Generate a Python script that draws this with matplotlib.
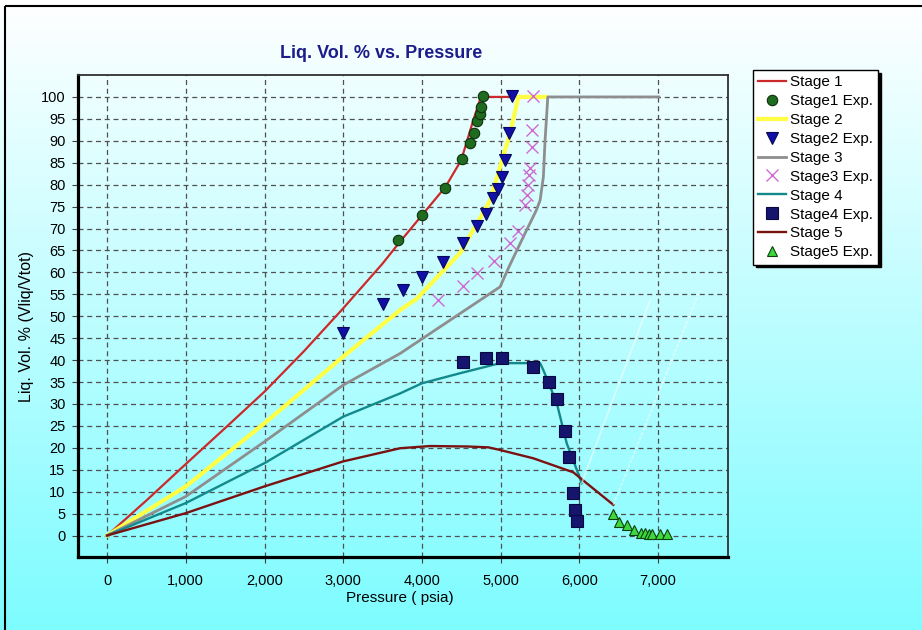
import numpy as np
import matplotlib.pyplot as plt
from matplotlib.colors import LinearSegmentedColormap
from matplotlib.patches import Rectangle

plt.rcParams['font.family'] = ['Liberation Sans', 'DejaVu Sans']

# model curves (pressure in psia, liquid volume in %)
stage1_p = [0, 500, 1000, 1500, 2000, 2500, 3000, 3500, 3700, 4000, 4300, 4500, 4650, 4750, 5120]
stage1_v = [0, 8, 16.3, 24.5, 32.8, 42, 51.8, 62, 66.5, 73, 79.5, 85.6, 94.5, 100, 100]

stage2_p = [0, 1000, 2000, 3000, 3723, 3935, 4485, 4867, 5121, 5226, 5580]
stage2_v = [0, 11.2, 25.6, 40.8, 51.4, 54, 64.4, 76.4, 91.7, 100, 100]

stage3_p = [0, 1000, 2000, 3000, 3723, 4994, 5100, 5300, 5450, 5502, 5544, 5565, 5587, 5600, 7010]
stage3_v = [0, 8.9, 21.4, 34.3, 41.5, 56.7, 61, 68.5, 74, 76.4, 81.8, 90, 96.2, 100, 100]

stage4_p = [0, 1000, 2000, 3000, 3723, 4000, 4485, 4994, 5502, 5544, 5714, 5841, 5968, 6031]
stage4_v = [0, 7.4, 16.5, 27.1, 32.4, 34.7, 37, 39.3, 39.3, 37.7, 30.2, 21, 15, 11.9]

stage5_p = [0, 1000, 2000, 3000, 3723, 4104, 4570, 4845, 4994, 5417, 5925, 6095, 6433]
stage5_v = [0, 5.1, 11.2, 16.9, 19.9, 20.4, 20.3, 20.1, 19.5, 17.6, 14.4, 11.9, 7]

# faint extra lines at the end of stage 4 / stage 5
faint1_p = [6031, 6900]
faint1_v = [11.9, 53.7]
faint2_p = [6433, 7535]
faint2_v = [7, 56]

# experimental points
exp1_p = [3700, 4000, 4300, 4515, 4612, 4663, 4705, 4740, 4752, 4774]
exp1_v = [67.3, 73, 79.3, 85.8, 89.4, 91.8, 94.5, 96.2, 97.7, 100.2]

exp2_p = [3003, 3512, 3765, 4000, 4263, 4519, 4697, 4816, 4908, 4963, 5023, 5057, 5112, 5141]
exp2_v = [46.1, 52.8, 55.9, 59, 62.4, 66.6, 70.5, 73.3, 76.9, 79.1, 81.8, 85.6, 91.8, 100.2]

exp3_p = [4210, 4519, 4705, 4921, 5121, 5226, 5311, 5332, 5353, 5366, 5375, 5396, 5396, 5417]
exp3_v = [53.7, 57, 59.8, 62.6, 66.6, 69.5, 75.3, 77.6, 79.9, 82.2, 83.9, 88.5, 92.4, 100.2]

exp4_p = [4528, 4816, 5023, 5417, 5617, 5723, 5820, 5875, 5925, 5946, 5968]
exp4_v = [39.5, 40.4, 40.4, 38.5, 35.1, 31.1, 23.9, 18, 9.7, 5.9, 3.3]

exp5_p = [6425, 6510, 6612, 6700, 6790, 6840, 6880, 6930, 7020, 7110]
exp5_v = [4.9, 3.0, 2.3, 1.3, 0.6, 0.5, 0.4, 0.4, 0.4, 0.4]

x_ticks = [0, 1000, 2000, 3000, 4000, 5000, 6000, 7000]
x_labels = ['0', '1,000', '2,000', '3,000', '4,000', '5,000', '6,000', '7,000']
y_ticks = list(range(0, 101, 5))

W, H = 922, 630
fig = plt.figure(figsize=(W / 100, H / 100), dpi=100)

# gradient background + frame
bg = fig.add_axes([0, 0, 1, 1], zorder=-1)
bg_cmap = LinearSegmentedColormap.from_list('bg', ['#ffffff', '#7dfcff'])
bg.imshow(np.linspace(0, 1, 256).reshape(-1, 1), aspect='auto', cmap=bg_cmap,
          extent=[0, W, H, 0])
bg.set_xlim(0, W)
bg.set_ylim(H, 0)
bg.add_patch(Rectangle((5, 6), W, H, fill=False, lw=1.5, ec='black'))
bg.axis('off')

ax = fig.add_axes([78 / W, 1 - 557 / H, 650 / W, 482 / H])
ax.patch.set_alpha(0)

h = {}
h['Stage 1'], = ax.plot(stage1_p, stage1_v, color='#cc2a2a', lw=1.6)
h['Stage 2'], = ax.plot(stage2_p, stage2_v, color='#ffff44', lw=3)
h['Stage 3'], = ax.plot(stage3_p, stage3_v, color='#8e8e8e', lw=2)
h['Stage 4'], = ax.plot(stage4_p, stage4_v, color='#13898c', lw=1.7)
h['Stage 5'], = ax.plot(stage5_p, stage5_v, color='#7a1212', lw=1.7)
ax.plot(faint1_p, faint1_v, color='white', lw=1.2, alpha=0.55)
ax.plot(faint2_p, faint2_v, color='white', lw=1.2, alpha=0.55, ls=(0, (2, 1)))

h['Stage1 Exp.'], = ax.plot(exp1_p, exp1_v, 'o', ms=7.5, mfc='#1f6b1f', mec='#0c300c', mew=0.8)
h['Stage2 Exp.'], = ax.plot(exp2_p, exp2_v, 'v', ms=9, mfc='#1010a8', mec='#08085a', mew=0.8)
h['Stage3 Exp.'], = ax.plot(exp3_p, exp3_v, 'x', ms=9, mec='#d06ad0', mew=1.0)
h['Stage4 Exp.'], = ax.plot(exp4_p, exp4_v, 's', ms=8, mfc='#15156e', mec='#080840', mew=0.8)
h['Stage5 Exp.'], = ax.plot(exp5_p, exp5_v, '^', ms=7.5, mfc='#3ed83e', mec='#0c400c', mew=0.8)

ax.set_xlim(-370, 7890)
ax.set_ylim(-4.9, 105)
ax.set_xticks(x_ticks)
ax.set_xticklabels(x_labels)
ax.set_yticks(y_ticks)
ax.tick_params(direction='out', length=4, color='#404040', labelsize=10.5, pad=5)
ax.tick_params(axis='x', pad=8)
ax.grid(True, ls=(0, (4, 3)), color='#505050', lw=0.9)

for s in ['left', 'bottom']:
    ax.spines[s].set_linewidth(2.3)
    ax.spines[s].set_color('black')
for s in ['top', 'right']:
    ax.spines[s].set_linewidth(1.3)
    ax.spines[s].set_color('#303030')

fig.text(381 / W, 1 - 53 / H, 'Liq. Vol. % vs. Pressure', ha='center', va='center',
         fontsize=13, fontweight='bold', color='#1c1c8a')
fig.text(400 / W, 1 - 598 / H, 'Pressure ( psia)', ha='center', va='center', fontsize=11)
fig.text(27 / W, 1 - 327 / H, 'Liq. Vol. % (Vliq/Vtot)', ha='center', va='center',
         rotation=90, fontsize=11.5)

order = ['Stage 1', 'Stage1 Exp.', 'Stage 2', 'Stage2 Exp.', 'Stage 3', 'Stage3 Exp.',
         'Stage 4', 'Stage4 Exp.', 'Stage 5', 'Stage5 Exp.']
leg = ax.legend([h[k] for k in order], order, loc='upper left',
                bbox_to_anchor=(753 / W, 1 - 70 / H), bbox_transform=fig.transFigure,
                borderaxespad=0, fancybox=False, framealpha=1, edgecolor='black',
                fontsize=11, handlelength=1.8, handletextpad=0.25, labelspacing=0.32,
                borderpad=0.35, shadow={'color': 'black', 'alpha': 1})
leg.get_frame().set_linewidth(1.0)

fig.savefig('out.png', dpi=100)
